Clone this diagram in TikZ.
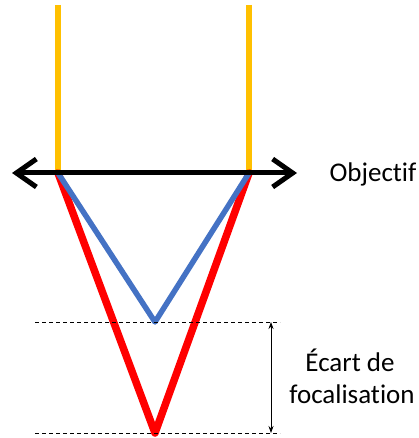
\documentclass[tikz,border=0pt]{standalone}
\usepackage{fontspec}
\setmainfont{Carlito}[Ligatures=NoCommon]
\usetikzlibrary{arrows.meta}
\definecolor{yel}{HTML}{FFC000}
\definecolor{blu}{HTML}{4472C4}
\definecolor{rd}{HTML}{FF0000}
\begin{document}
\begin{tikzpicture}[x=1pt,y=-1pt,
  lbl/.style={font=\fontsize{27}{32}\selectfont, inner sep=0pt, anchor=base},
  ray/.style={line width=#1, line join=round, line cap=round},
  guide/.style={dashed, line width=0.8pt, dash pattern=on 4pt off 3pt}]
\useasboundingbox (0,0) rectangle (419,438);
% key points
\coordinate (LT) at (58,5);
\coordinate (RT) at (249,5);
\coordinate (L) at (58,173);
\coordinate (R) at (249,173);
\coordinate (B) at (155,322);
\coordinate (F) at (155,433);
\coordinate (AL) at (12,173);
\coordinate (AR) at (297,173);
\coordinate (D1a) at (35,322);
\coordinate (D1b) at (280,322);
\coordinate (D2a) at (35,433);
\coordinate (D2b) at (280,433);
\coordinate (V1) at (271,322);
\coordinate (V2) at (271,433);
% yellow incoming rays
\draw[yel, line width=6pt] (LT) -- (L);
\draw[yel, line width=6pt] (RT) -- (R);
% red and blue cones
\draw[ray=7.5pt, rd] (L) -- (F) -- (R);
\draw[ray=5.5pt, blu] (L) -- (B) -- (R);
% lens
\draw[line width=5pt, line cap=round, {Straight Barb[length=20pt,width=28pt,line width=5pt]}-{Straight Barb[length=20pt,width=28pt,line width=5pt]}] (AL) -- (AR);
% guides
\draw[guide] (D1a) -- (D1b);
\draw[guide] (D2a) -- (D2b);
\draw[line width=0.8pt, {Stealth[length=7pt,width=5pt]}-{Stealth[length=7pt,width=5pt]}] (V1) -- (V2);
% labels
\node[lbl] (obj) at (373,182) {Objectif};
\node[lbl] (ec1) at (350,371) {Écart de};
\node[lbl] (ec2) at (352,403) {focalisation};
\end{tikzpicture}
\end{document}
